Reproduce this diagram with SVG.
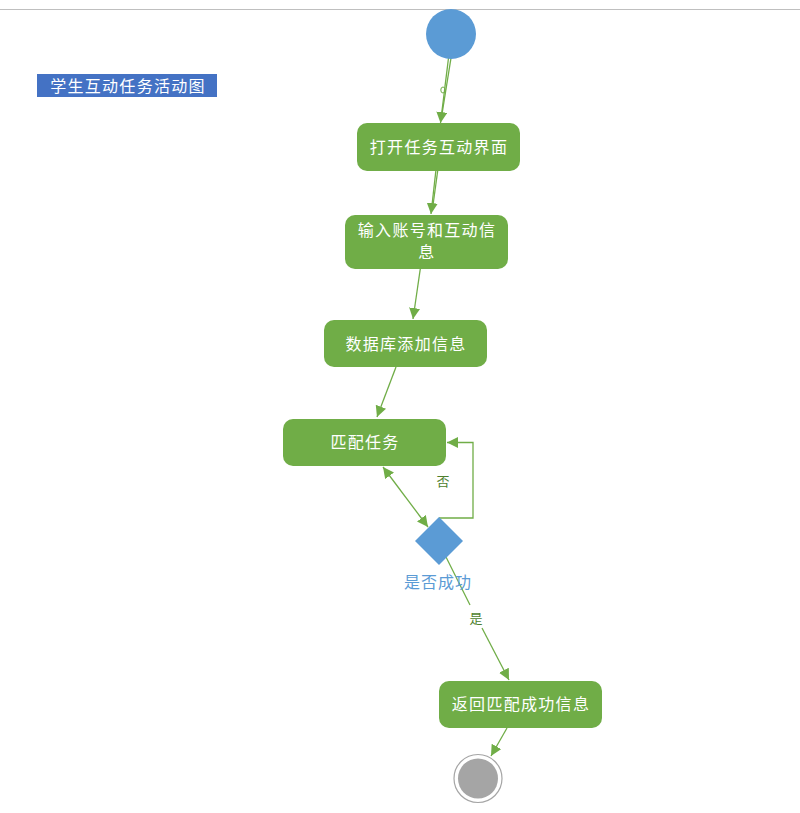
<svg xmlns="http://www.w3.org/2000/svg" width="800" height="813" viewBox="0 0 800 813">
<defs>
<marker id="ah" viewBox="0 0 10 10" refX="10" refY="5" markerWidth="11" markerHeight="11" markerUnits="userSpaceOnUse" orient="auto-start-reverse">
<path d="M0,0 L10,5 L0,10 z" fill="#70AD47"/>
</marker>
</defs>
<style>
.bg{fill:#ffffff}
.act{fill:#70AD47}
.nt{font-family:"Noto Sans CJK SC","Noto Sans",sans-serif;font-size:16px;fill:#ffffff;text-anchor:middle;dominant-baseline:central;letter-spacing:1.3px}
.ln{stroke:#70AD47;stroke-width:1.3;fill:none}
.lbl{font-family:"Noto Sans CJK SC","Noto Sans",sans-serif;font-size:13px;fill:#4E7F2E;text-anchor:middle;dominant-baseline:central}
</style>
<rect class="bg" x="0" y="0" width="800" height="813"/>
<line x1="0" y1="9.5" x2="800" y2="9.5" stroke="#BFBFBF" stroke-width="1"/>
<g id="connectors">
<line class="ln" x1="448.5" y1="58" x2="440.5" y2="123" marker-end="url(#ah)"/>
<line class="ln" x1="451" y1="58" x2="442" y2="114"/>
<ellipse cx="443" cy="90" rx="2.2" ry="3" fill="none" stroke="#70AD47" stroke-width="1"/>
<line class="ln" x1="436.5" y1="165" x2="431" y2="214" marker-end="url(#ah)"/>
<line class="ln" x1="438.5" y1="165" x2="433" y2="205"/>
<line class="ln" x1="421" y1="264" x2="413" y2="319" marker-end="url(#ah)"/>
<line class="ln" x1="396" y1="367" x2="377" y2="417" marker-end="url(#ah)"/>
<polyline class="ln" points="439,518 473,518 473,442.5 447,442.5" marker-end="url(#ah)"/>
<line class="ln" x1="383" y1="467" x2="428" y2="527" marker-start="url(#ah)" marker-end="url(#ah)"/>
<line class="ln" x1="446" y1="557" x2="470" y2="605"/>
<line class="ln" x1="482" y1="628" x2="509" y2="680" marker-end="url(#ah)"/>
<line class="ln" x1="507" y1="728" x2="491" y2="756" marker-end="url(#ah)"/>
<text class="lbl" x="443" y="480">否</text>
<text class="lbl" x="476" y="617">是</text>
</g>
<g id="title">
<rect x="37" y="74" width="180" height="23" fill="#4472C4"/>
<text class="nt" x="128" y="85">学生互动任务活动图</text>
</g>
<g id="start">
<circle cx="451" cy="34" r="25" fill="#5B9BD5"/>
</g>
<g id="n1">
<rect class="act" x="357" y="123" width="163" height="48" rx="10"/>
<text class="nt" x="439" y="146">打开任务互动界面</text>
</g>
<g id="n2">
<rect class="act" x="345" y="215" width="163" height="54" rx="10"/>
<text class="nt" x="427" y="229">输入账号和互动信</text>
<text class="nt" x="427" y="251">息</text>
</g>
<g id="n3">
<rect class="act" x="324" y="320" width="163" height="47" rx="10"/>
<text class="nt" x="406" y="343">数据库添加信息</text>
</g>
<g id="n4">
<rect class="act" x="283" y="419" width="163" height="47" rx="10"/>
<text class="nt" x="365" y="441">匹配任务</text>
</g>
<g id="decision">
<polygon points="439,517 463,541 439,565 415,541" fill="#5B9BD5"/>
<text x="438" y="581" font-family="'Noto Sans CJK SC','Noto Sans',sans-serif" font-size="16" fill="#5B9BD5" text-anchor="middle" dominant-baseline="central" letter-spacing="1">是否成功</text>
</g>
<g id="n5">
<rect class="act" x="439" y="681" width="163" height="47" rx="10"/>
<text class="nt" x="521" y="703">返回匹配成功信息</text>
</g>
<g id="end">
<circle cx="478" cy="778.5" r="24" fill="#ffffff" stroke="#A5A5A5" stroke-width="1.2"/>
<circle cx="478" cy="778.5" r="20" fill="#A5A5A5"/>
</g>
</svg>
